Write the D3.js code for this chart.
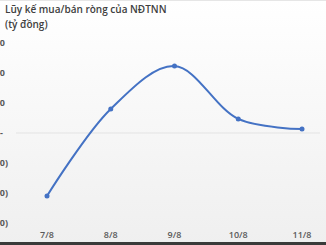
<!DOCTYPE html>
<html>
<head>
<meta charset="utf-8">
<script src="https://cdn.jsdelivr.net/npm/d3@7"></script>
<style>
  body { margin: 0; padding: 0; background: #fff; }
  #chart-area { width: 326px; height: 245px; overflow: hidden; }
</style>
</head>
<body>
<div id="chart-area"></div>
<script>
// data
var days = ['7/8', '8/8', '9/8', '10/8', '11/8'];
var netBuy = [-210, 80, 223, 47, 13];
var yTicks = [-300, -200, -100, 0, 100, 200, 300];

var width = 326, height = 245;

var $svg = d3.select('#chart-area').append('svg')
    .attr('width', width).attr('height', height);

// background gradient
var grad = $svg.append('defs').append('linearGradient')
    .attr('id', 'bg').attr('x1', 0).attr('y1', 0).attr('x2', 0).attr('y2', 1);
grad.append('stop').attr('offset', '0%').attr('stop-color', '#ffffff');
grad.append('stop').attr('offset', '100%').attr('stop-color', '#efefef');

$svg.append('rect')
    .attr('width', width).attr('height', height)
    .style('fill', 'url(#bg)');

$svg.append('line')
    .attr('x1', 0).attr('x2', width).attr('y1', 0.5).attr('y2', 0.5)
    .style('stroke', '#e6e6e6');
$svg.append('rect')
    .attr('x', 0).attr('y', 242).attr('width', width).attr('height', 3)
    .style('fill', '#3a3a3a');

var x = d3.scalePoint().domain(days).range([47, 302]);
var y = d3.scaleLinear().domain([-300, 300]).range([223, 43]);

// zero line
$svg.append('line')
    .attr('x1', 16).attr('x2', 320)
    .attr('y1', y(0)).attr('y2', y(0))
    .style('stroke', '#e3e3e3').style('stroke-width', 1);

// y labels (the picture is cropped, so only their ends show)
$svg.selectAll('.ylab')
    .data(yTicks)
    .enter()
    .append('text')
    .attr('class', 'ylab')
    .attr('x', function(d) { return d === 0 ? 3 : (d < 0 ? 8 : 5); })
    .attr('y', function(d) { return y(d); })
    .attr('dy', '0.35em')
    .attr('text-anchor', 'end')
    .style('font-family', 'Open Sans, sans-serif')
    .style('font-size', '9px')
    .style('font-weight', 'bold')
    .style('fill', '#595959')
    .text(function(d) {
        if (d === 0) return '-';
        return d < 0 ? '(' + Math.abs(d) + ')' : d;
    });

// x labels
$svg.selectAll('.xlab')
    .data(days)
    .enter()
    .append('text')
    .attr('class', 'xlab')
    .attr('x', function(d) { return x(d); })
    .attr('y', 238)
    .attr('text-anchor', 'middle')
    .style('font-family', 'Open Sans, sans-serif')
    .style('font-size', '9px')
    .style('font-weight', '600')
    .style('fill', '#595959')
    .text(function(d) { return d; });

// line
var line = d3.line()
    .x(function(d, i) { return x(days[i]); })
    .y(function(d) { return y(d); })
    .curve(d3.curveCatmullRom.alpha(0.5));

$svg.append('path')
    .datum(netBuy)
    .attr('d', line)
    .style('fill', 'none')
    .style('stroke', '#4472c4')
    .style('stroke-width', 2);

$svg.selectAll('.dot')
    .data(netBuy)
    .enter()
    .append('circle')
    .attr('cx', function(d, i) { return x(days[i]); })
    .attr('cy', function(d) { return y(d); })
    .attr('r', 2.5)
    .style('fill', '#4472c4');

// title
var title = $svg.append('text')
    .attr('x', 5)
    .style('font-family', 'Open Sans, sans-serif')
    .style('font-size', '10px')
    .style('font-weight', '600')
    .style('fill', '#404040');
title.append('tspan').attr('x', 5).attr('y', 13).text('Lũy kế mua/bán ròng của NĐTNN');
title.append('tspan').attr('x', 5).attr('y', 28).text('(tỷ đồng)');
</script>
</body>
</html>
